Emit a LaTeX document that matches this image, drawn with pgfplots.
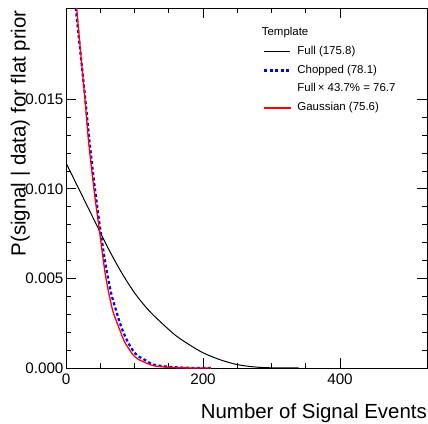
\documentclass[border=0pt]{standalone}
\usepackage{fontspec}
\setmainfont{Liberation Sans}
\usepackage{pgfplots}
\pgfplotsset{compat=1.18}
\definecolor{rootred}{rgb}{1,0,0}
\definecolor{rootblue}{rgb}{0,0,1}
\begin{document}
\begin{tikzpicture}
\begin{axis}[
name=ax,
scale only axis,
width=361bp, height=360bp,
xmin=0, xmax=527,
ymin=0, ymax=0.0201,
axis line style={line width=0.9bp},
tick align=inside,
tick style={line width=0.8bp, black},
major tick length=10bp,
minor tick length=5bp,
xtick={0,200,400},
ytick={0,0.005,0.010,0.015},
minor x tick num=3,
minor y tick num=4,
scaled y ticks=false,
/pgf/number format/assume math mode=true,
y tick label style={/pgf/number format/fixed, /pgf/number format/fixed zerofill, /pgf/number format/precision=3, xshift=1bp},
x tick label style={yshift=-2bp},
tick label style={font=\fontsize{15.3}{18}\selectfont},
xlabel={Number of Signal Events},
xlabel style={at={(axis description cs:1,-0.139)}, anchor=base east, font=\fontsize{20.5}{24}\selectfont, inner sep=0pt},
ylabel={P(signal | data) for flat prior},
ylabel style={at={(axis description cs:-0.112,0.994)}, anchor=base east, font=\fontsize{20.5}{24}\selectfont, inner sep=0pt},
legend style={at={(axis description cs:0.5457,0.895)}, anchor=north west, draw=none, fill=none, inner sep=0pt,
  font=\fontsize{11.5}{13}\selectfont, row sep=6.5bp, column sep=6bp,
  nodes={inner sep=0pt, text height=9bp, text depth=3bp}},
legend cell align=left,
]
% Full template
\addplot[black, line width=1bp, smooth, forget plot] table {
0 0.01145
20 0.0099
40 0.00835
60 0.0068
80 0.0054
100 0.0042
120 0.00325
140 0.0025
160 0.00182
180 0.0013
200 0.00085
225 0.00046
250 0.00019
275 0.00006
300 0.00001
340 0
};
% Chopped template
\addplot[rootblue, line width=2.2bp, dash pattern=on 3bp off 2.5bp, smooth, forget plot] table {
14.2 0.0201
28.2 0.0150
35 0.0124
42.3 0.0100
49.5 0.0079
56 0.0062
61.5 0.0050
67 0.0040
74 0.0031
78.8 0.0025
83.7 0.0020
91 0.0014
100 0.00085
108 0.0006
117.8 0.00040
127.5 0.00019
152 0.00006
180 0.00001
213 0
};
% Gaussian template
\addplot[rootred, line width=1.3bp, smooth, forget plot] table {
15.6 0.0201
20 0.0182
27.7 0.0150
33.1 0.0126
41.4 0.0098
48 0.0079
54.5 0.0060
58.4 0.0050
63.5 0.0040
69 0.0031
78.8 0.0021
85 0.0015
93 0.0010
98 0.00073
105 0.0005
113 0.00035
127.5 0.00013
147 0.00005
170 0.00001
212 0
};
\addlegendimage{legend image code/.code={\draw[black, line width=1bp] (0bp,0bp) -- (26bp,0bp);}}
\addlegendentry{Full (175.8)}
\addlegendimage{legend image code/.code={\draw[rootblue, line width=2.2bp, dash pattern=on 3bp off 2.5bp] (0bp,0bp) -- (26bp,0bp);}}
\addlegendentry{Chopped (78.1)}
\addlegendimage{legend image code/.code={}}
\addlegendentry{Full\,×\ 43.7\% = 76.7}
\addlegendimage{legend image code/.code={\fill[rootred] (0bp,-0.5bp) rectangle (26bp,0.5bp);}}
\addlegendentry{Gaussian (75.6)}
\node[anchor=west, inner sep=0pt, font=\fontsize{11.5}{13}\selectfont] at (axis description cs:0.542,0.933) {Template};
\end{axis}
\pgfresetboundingbox
\path[use as bounding box] ([shift={(-66bp,-56bp)}]ax.south west) rectangle ([shift={(1bp,8bp)}]ax.north east);
\end{tikzpicture}
\end{document}
